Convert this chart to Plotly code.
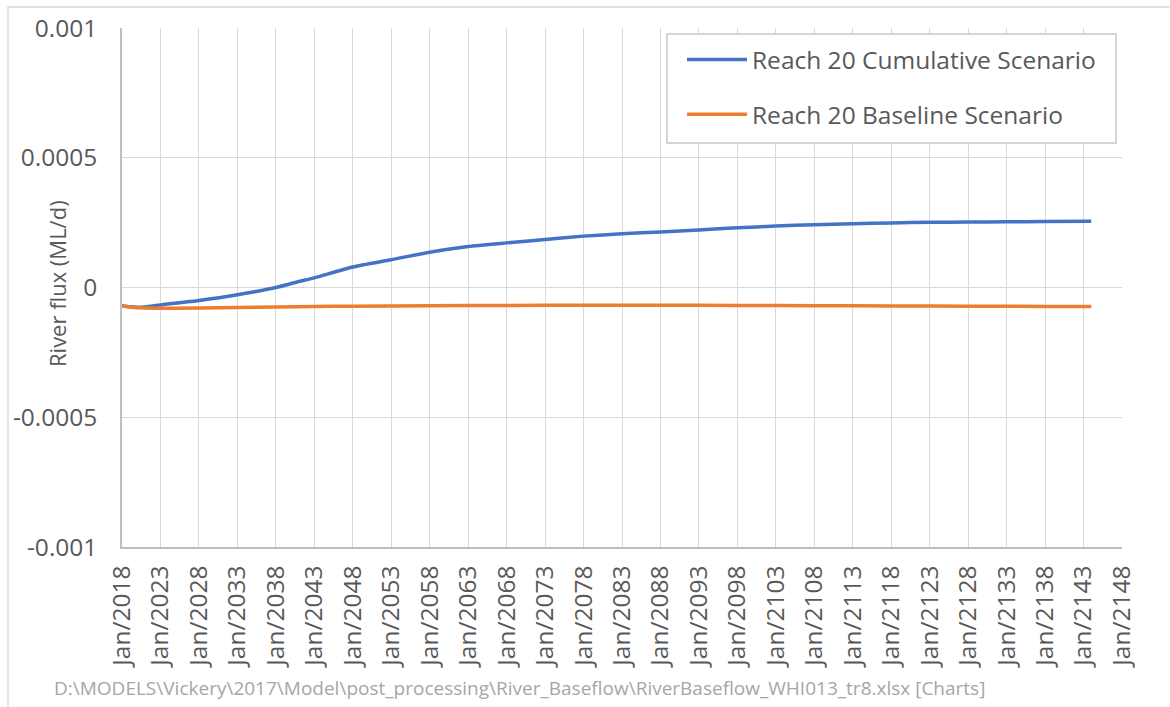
import plotly.graph_objects as go

# Simulated river flux for Reach 20 (ML/d), sampled in January of each year
cumulative_years = [2018, 2019, 2020, 2021, 2023, 2028, 2033, 2038, 2041, 2043, 2048, 2053,
                    2058, 2063, 2068, 2073, 2078, 2083, 2088, 2093, 2098, 2103, 2108,
                    2113, 2118, 2123, 2128, 2133, 2138, 2144]
cumulative_flux = [-0.000070, -0.000074, -0.000076, -0.000075, -0.000067, -0.000050,
                   -0.000028, 0.000000, 0.000023, 0.000037, 0.000079, 0.000107,
                   0.000136, 0.000158, 0.000172, 0.000185, 0.000198, 0.000207,
                   0.000214, 0.000222, 0.000230, 0.000237, 0.000242, 0.000246,
                   0.000249, 0.000251, 0.000252, 0.000253, 0.000254, 0.000255]

baseline_years = [2018, 2019, 2020, 2022, 2028, 2033, 2038, 2043, 2048, 2058, 2068,
                  2078, 2088, 2098, 2108, 2118, 2128, 2138, 2144]
baseline_flux = [-0.000070, -0.000075, -0.000078, -0.000080, -0.000079, -0.000077,
                 -0.000075, -0.000073, -0.000072, -0.000070, -0.000069, -0.000068,
                 -0.000068, -0.000069, -0.000070, -0.000071, -0.000072, -0.000073,
                 -0.000073]

y_tick_values = [-0.001, -0.0005, 0, 0.0005, 0.001]
y_tick_labels = ["-0.001", "-0.0005", "0", "0.0005", "0.001"]

series_names = ["Reach 20 Cumulative Scenario", "Reach 20 Baseline Scenario"]
footnote = r"D:\MODELS\Vickery\2017\Model\post_processing\River_Baseflow\RiverBaseflow_WHI013_tr8.xlsx [Charts]"

FONT = "Open Sans"
TEXT = "#595959"
GRID = "#D9D9D9"
AXIS = "#BFBFBF"
TICK_SIZE = 24.5

# plot area geometry in pixels (used to place paper-referenced decorations)
L, T, W, H = 122, 28, 1000, 519


def px_x(px):
    return (px - L) / W


def px_y(py):
    return (T + H - py) / H


def jan(years):
    return [f"{y}-01-01" for y in years]


fig = go.Figure()
fig.add_trace(go.Scatter(
    x=jan(cumulative_years), y=cumulative_flux, mode="lines",
    name=series_names[0], legendgroup="a",
    line=dict(color="#4472C4", width=3.5, shape="spline", smoothing=0.6),
))
fig.add_trace(go.Scatter(
    x=jan(baseline_years), y=baseline_flux, mode="lines",
    name=series_names[1], legendgroup="b",
    line=dict(color="#ED7D31", width=3.5, shape="spline", smoothing=0.6),
))

fig.update_layout(
    width=1170, height=707, autosize=False,
    margin=dict(l=L, r=1170 - L - W, t=T, b=707 - T - H),
    paper_bgcolor="white", plot_bgcolor="white",
    font=dict(family=FONT, color=TEXT, size=TICK_SIZE),
    showlegend=True,
    legend=dict(
        x=px_x(682), y=px_y(37), xanchor="left", yanchor="top",
        bgcolor="rgba(0,0,0,0)", borderwidth=0,
        font=dict(family=FONT, size=TICK_SIZE, color=TEXT),
        itemwidth=60, tracegroupgap=20,
    ),
    xaxis=dict(
        type="date", range=["2018-01-01", "2148-01-01"],
        tick0="2018-01-01", dtick="M60", tickformat="%b/%Y",
        tickangle=-90, tickfont=dict(size=TICK_SIZE, color=TEXT),
        showgrid=True, gridcolor=GRID, gridwidth=1.3,
        showline=True, linecolor=AXIS, linewidth=1.5,
        ticks="", ticklabelstandoff=7, zeroline=False,
    ),
    yaxis=dict(
        range=[-0.001, 0.001], tickvals=y_tick_values, ticktext=y_tick_labels,
        tickfont=dict(size=TICK_SIZE, color=TEXT),
        showgrid=True, gridcolor=GRID, gridwidth=1.3,
        showline=True, linecolor=AXIS, linewidth=1.5,
        ticks="", ticklabelstandoff=18, zeroline=False,
    ),
    shapes=[
        # outer chart-area frame
        dict(type="rect", xref="paper", yref="paper",
             x0=px_x(8), x1=px_x(1185), y0=px_y(725), y1=px_y(7),
             line=dict(color=GRID, width=1.3), fillcolor="rgba(0,0,0,0)",
             layer="below"),
        # legend frame
        dict(type="rect", xref="paper", yref="paper",
             x0=px_x(667), x1=px_x(1116), y0=px_y(143), y1=px_y(34),
             line=dict(color="#C8C8C8", width=1.5), fillcolor="white",
             layer="above"),
    ],
    annotations=[
        dict(text="River flux (ML/d)", textangle=-90, xref="paper", yref="paper",
             x=px_x(57), y=px_y(284), xanchor="center", yanchor="middle",
             showarrow=False, font=dict(family=FONT, size=22, color=TEXT)),
        dict(text=footnote.replace("\\", "&#92;"), xref="paper", yref="paper",
             x=px_x(52), y=px_y(688), xanchor="left", yanchor="middle",
             showarrow=False, font=dict(family=FONT, size=19, color="#A6A6A6")),
    ],
)

fig.write_html("out.html")
